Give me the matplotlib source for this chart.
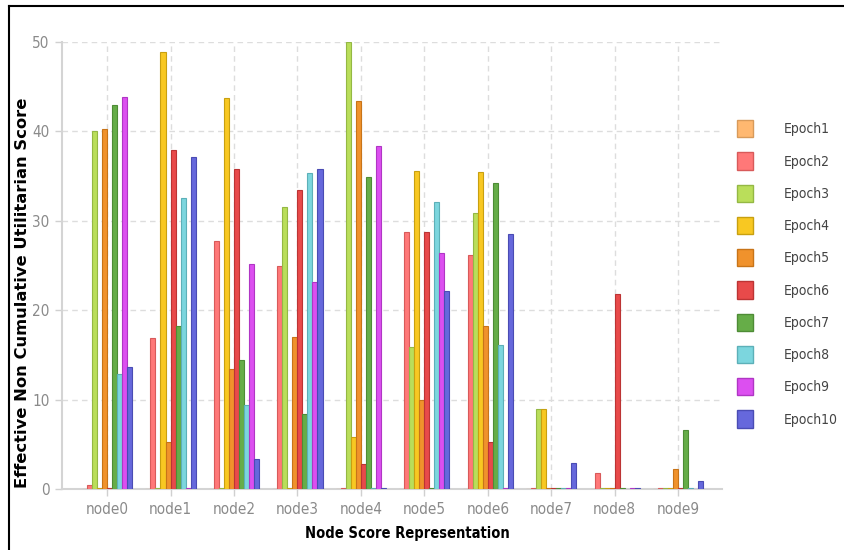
import numpy as np
import matplotlib
matplotlib.use("Agg")
import matplotlib.pyplot as plt
from matplotlib.lines import Line2D

nodes = ["node0", "node1", "node2", "node3", "node4", "node5", "node6", "node7", "node8", "node9"]
epochs = ["Epoch1", "Epoch2", "Epoch3", "Epoch4", "Epoch5",
          "Epoch6", "Epoch7", "Epoch8", "Epoch9", "Epoch10"]

# one list per epoch, values per node (0.15 = tiny stub visible on the axis)
epoch1 = [0, 0, 0, 0, 0, 0, 0, 0, 0, 0]
epoch2 = [0.5, 16.9, 27.7, 25.0, 0.15, 28.8, 26.2, 0.15, 1.8, 0.15]
epoch3 = [40.0, 0.15, 0.15, 31.5, 50.0, 15.9, 30.9, 8.9, 0.15, 0.15]
epoch4 = [0.15, 48.9, 43.7, 0.15, 5.8, 35.6, 35.5, 8.9, 0.15, 0.15]
epoch5 = [40.3, 5.3, 13.4, 17.0, 43.4, 10.0, 18.2, 0.15, 0.15, 2.2]
epoch6 = [0.15, 37.9, 35.8, 33.4, 2.8, 28.7, 5.3, 0.15, 21.8, 0.15]
epoch7 = [42.9, 18.2, 14.4, 8.4, 34.9, 0.15, 34.2, 0.15, 0.15, 6.6]
epoch8 = [12.9, 32.6, 9.4, 35.3, 0.15, 32.1, 16.1, 0.15, 0, 0.15]
epoch9 = [43.8, 0.15, 25.2, 23.2, 38.4, 26.4, 0.15, 0.15, 0.15, 0]
epoch10 = [13.7, 37.1, 3.3, 35.8, 0.15, 22.1, 28.5, 2.9, 0.15, 0.9]
series = [epoch1, epoch2, epoch3, epoch4, epoch5, epoch6, epoch7, epoch8, epoch9, epoch10]

colors = ["#ffb870", "#ff7878", "#bade5a", "#f8c822", "#f0922c",
          "#e84a4a", "#66ad48", "#7cd6de", "#dc4ff0", "#6668dc"]
edges = ["#d89a5a", "#d85a5a", "#94b844", "#c8a010", "#c87418",
          "#bc3434", "#4e8c36", "#5cb0b8", "#b036c4", "#4a4cb4"]

fam = ["DejaVu Sans"]

fig = plt.figure(figsize=(8.45, 5.5), dpi=100)
ax = fig.add_axes([62/845, 61/550, 660/845, 447/550])

x = np.arange(len(nodes))
w = 0.079
for i, vals in enumerate(series):
    ax.bar(x + (i - 4.5) * w, vals, width=w, color=colors[i], edgecolor=edges[i],
           linewidth=0.8, zorder=3)

ax.set_xlim(-0.71, 9.69)
ax.set_ylim(0, 50)
ax.set_xticks(x)
ax.set_xticklabels(nodes)
ax.set_yticks(range(0, 51, 10))

ax.grid(True, color="#dddddd", linestyle=(0, (4, 3)), linewidth=1, zorder=0)
for s in ["top", "right"]:
    ax.spines[s].set_visible(False)
for s in ["left", "bottom"]:
    ax.spines[s].set_color("#d4d4d4")
    ax.spines[s].set_linewidth(1.5)
ax.tick_params(axis="both", colors="#d0d0d0", length=5, width=1)
for lab in ax.get_xticklabels() + ax.get_yticklabels():
    lab.set_color("#8a8a8a")
    lab.set_family(fam)
    lab.set_fontstretch("condensed")
    lab.set_fontsize(11)
ax.tick_params(axis="x", pad=4)
ax.tick_params(axis="y", pad=4)

ax.set_xlabel("Node Score Representation", fontsize=10.5, fontweight="bold",
              family=fam, fontstretch="condensed")
ax.xaxis.set_label_coords(0.523, -0.082)
ax.set_ylabel("Effective Non Cumulative Utilitarian Score", fontsize=11.8,
              fontweight="bold", family=fam)
ax.yaxis.set_label_coords(-0.049, 0.44)

handles = [plt.Rectangle((0, 0), 1, 1, facecolor=colors[i], edgecolor=edges[i], linewidth=1)
           for i in range(len(epochs))]
leg = fig.legend(handles, epochs, loc="upper left", bbox_to_anchor=(737/845, 1 - 120/550),
                 frameon=False, borderpad=0, borderaxespad=0,
                 prop={"family": fam, "stretch": "condensed", "size": 10},
                 handlelength=1.15, handleheight=1.55, handletextpad=2.2, labelspacing=1.07)
for t in leg.get_texts():
    t.set_color("#444444")

# outer frame line (left and top edges visible)
fig.add_artist(Line2D([9/845, 9/845], [0, 1 - 6/550], transform=fig.transFigure, color="black", lw=1.5))
fig.add_artist(Line2D([9/845, 1], [1 - 6/550, 1 - 6/550], transform=fig.transFigure, color="black", lw=1.5))

fig.savefig("out.png", dpi=100)
